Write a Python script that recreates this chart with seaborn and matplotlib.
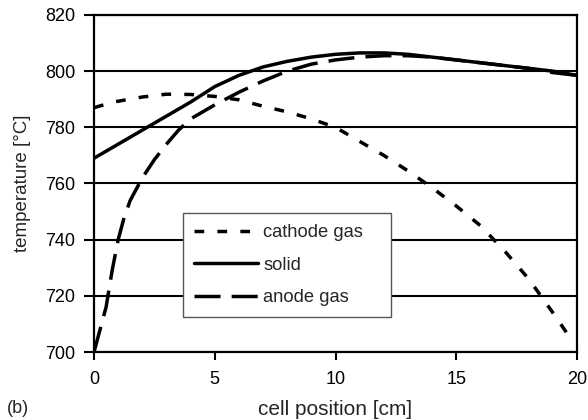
import matplotlib
matplotlib.use("Agg")
import matplotlib.pyplot as plt
import seaborn as sns
import pandas as pd

# ---- data ----
cathode_x = [0, 0.8, 2, 3, 4, 5, 6, 7, 8, 9, 10, 11, 12, 13, 14, 15, 16, 17, 18, 19, 19.8]
cathode_T = [787, 789, 790.8, 791.8, 791.7, 791, 789.8, 787.5, 785.5, 783, 780, 775, 770,
             764.5, 758.5, 752, 745, 736, 726, 714, 704]
solid_x = [0, 1, 2, 3, 4, 5, 6, 7, 8, 9, 10, 11, 12, 13, 14, 15, 16, 17, 18, 19, 20]
solid_T = [769, 774, 779, 784, 789, 794.5, 798.5, 801.5, 803.5, 805, 806, 806.5, 806.5,
           806, 805, 804, 803, 802, 801, 800, 798.5]
anode_x = [0, 0.25, 0.5, 0.75, 1, 1.25, 1.5, 1.75, 2, 2.5, 3, 3.5, 4, 5, 6, 7, 8, 9, 10,
           11, 12, 13, 14, 15, 16, 17, 18, 19, 20]
anode_T = [700, 708, 716, 729, 740, 748, 754, 758, 762, 768.5, 774, 779, 783, 788, 792.5,
           796.5, 800, 802.5, 804, 805, 805.5, 805.5, 805, 804, 803, 802, 801, 799.5, 798.5]
series_names = ["cathode gas", "solid", "anode gas"]
x_ticks = [0, 5, 10, 15, 20]
y_ticks = [700, 720, 740, 760, 780, 800, 820]

sns.set_style("white")
plt.rcParams['font.family'] = ['Liberation Sans', 'DejaVu Sans']

fig = plt.figure(figsize=(5.88, 4.2), dpi=100)
ax = fig.add_axes([0.1599, 0.1619, 0.8214, 0.8024])

df_c = pd.DataFrame({"x": cathode_x, "T": cathode_T})
df_s = pd.DataFrame({"x": solid_x, "T": solid_T})
df_a = pd.DataFrame({"x": anode_x, "T": anode_T})

lw = 2.5
sns.lineplot(data=df_c, x="x", y="T", ax=ax, color="black", lw=lw,
             linestyle=(0, (2.8, 3.8)), label=series_names[0], sort=False)
sns.lineplot(data=df_s, x="x", y="T", ax=ax, color="black", lw=lw,
             linestyle="-", label=series_names[1], sort=False)
sns.lineplot(data=df_a, x="x", y="T", ax=ax, color="black", lw=lw,
             linestyle=(0, (7.5, 3.2)), label=series_names[2], sort=False)

ax.set_xlim(0, 20)
ax.set_ylim(700, 820)
ax.set_xticks(x_ticks)
ax.set_yticks(y_ticks)
ax.yaxis.grid(True, color="black", lw=1.5)
ax.set_axisbelow(True)
for s in ax.spines.values():
    s.set_color("black")
    s.set_linewidth(1.6)
    s.set_visible(True)
ax.tick_params(axis="both", direction="out", width=1.5, colors="black",
               labelsize=13, left=True, bottom=True)
ax.tick_params(axis="x", length=6, pad=7.5)
ax.tick_params(axis="y", length=7, pad=6.5)
ax.set_xlabel("cell position [cm]", fontsize=15, labelpad=9)
ax.set_ylabel("temperature [°C]", fontsize=13.5, labelpad=10)

leg = ax.legend(loc="upper left", bbox_to_anchor=(0.1836, 0.105, 0.4306, 0.307),
                mode="expand", frameon=True, fancybox=False, fontsize=13.2,
                handlelength=3.5, borderpad=0.6, labelspacing=0.85,
                handletextpad=0.3, borderaxespad=0)
leg.get_frame().set_edgecolor("#555555")
leg.get_frame().set_linewidth(1.0)
leg.get_frame().set_alpha(1)

fig.text(0.012, 0.007, "(b)", fontsize=13, va="bottom")

fig.savefig("out.png", dpi=100)
